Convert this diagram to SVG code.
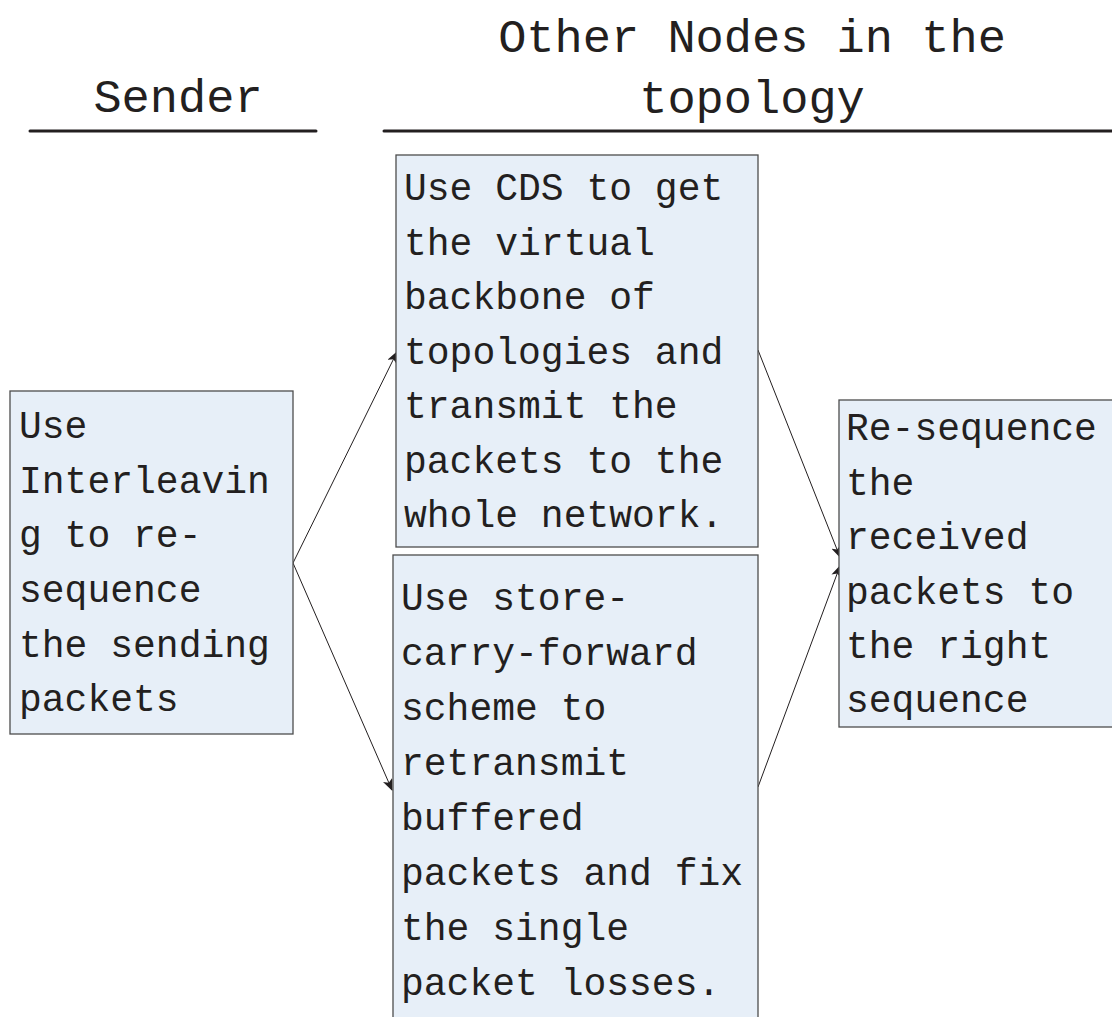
<svg xmlns="http://www.w3.org/2000/svg" width="1112" height="1017" viewBox="0 0 1112 1017">
<style>
.box{fill:#E7EFF8;stroke:#4d4d4d;stroke-width:1.3}
.t{font-family:"Liberation Mono","DejaVu Sans Mono",monospace;font-size:38px;fill:#231F20}
.h{font-family:"Liberation Mono","DejaVu Sans Mono",monospace;font-size:47px;fill:#231F20;text-anchor:middle}
.rule{stroke:#231F20;stroke-width:3;stroke-linecap:round}
.c{stroke:#231F20;stroke-width:1;fill:none;marker-end:url(#ah)}
</style>
<defs>
<marker id="ah" viewBox="0 0 12 10" refX="11" refY="5" markerWidth="12" markerHeight="10" markerUnits="userSpaceOnUse" orient="auto">
<path d="M0,0 L12,5 L0,10 L3,5 Z" fill="#231F20"/>
</marker>
</defs>
<rect width="1112" height="1017" fill="#fff"/>
<g id="header-sender">
<text class="h" x="178" y="112">Sender</text>
<line class="rule" x1="30" y1="131" x2="316" y2="131"/>
</g>
<g id="header-other">
<text class="h" x="752" y="52">Other Nodes in the</text>
<text class="h" x="752" y="113">topology</text>
<line class="rule" x1="384" y1="131" x2="1114" y2="131"/>
</g>
<g id="connectors">
<line class="c" x1="293" y1="563" x2="397" y2="352"/>
<line class="c" x1="293" y1="563" x2="392" y2="790"/>
<line class="c" x1="758" y1="350" x2="840" y2="557"/>
<line class="c" x1="758" y1="787" x2="840" y2="566"/>
</g>
<g id="node-interleave">
<rect class="box" x="10" y="391" width="283" height="343"/>
<text class="t" x="19"><tspan x="19" y="438">Use</tspan><tspan x="19" y="493">Interleavin</tspan><tspan x="19" y="547">g to re-</tspan><tspan x="19" y="602">sequence</tspan><tspan x="19" y="657">the sending</tspan><tspan x="19" y="711">packets</tspan></text>
</g>
<g id="node-cds">
<rect class="box" x="396" y="155" width="362" height="392"/>
<text class="t"><tspan x="404" y="200">Use CDS to get</tspan><tspan x="404" y="254.5">the virtual</tspan><tspan x="404" y="309">backbone of</tspan><tspan x="404" y="363.5">topologies and</tspan><tspan x="404" y="418">transmit the</tspan><tspan x="404" y="472.5">packets to the</tspan><tspan x="404" y="527">whole network.</tspan></text>
</g>
<g id="node-scf">
<rect class="box" x="393" y="555" width="365" height="480"/>
<text class="t"><tspan x="401" y="610">Use store-</tspan><tspan x="401" y="665">carry-forward</tspan><tspan x="401" y="720">scheme to</tspan><tspan x="401" y="775">retransmit</tspan><tspan x="401" y="830">buffered</tspan><tspan x="401" y="885">packets and fix</tspan><tspan x="401" y="940">the single</tspan><tspan x="401" y="995">packet losses.</tspan></text>
</g>
<g id="node-resequence">
<rect class="box" x="839" y="400" width="290" height="327"/>
<text class="t"><tspan x="846" y="440">Re-sequence</tspan><tspan x="846" y="494.5">the</tspan><tspan x="846" y="549">received</tspan><tspan x="846" y="603.5">packets to</tspan><tspan x="846" y="658">the right</tspan><tspan x="846" y="712">sequence</tspan></text>
</g>
</svg>
